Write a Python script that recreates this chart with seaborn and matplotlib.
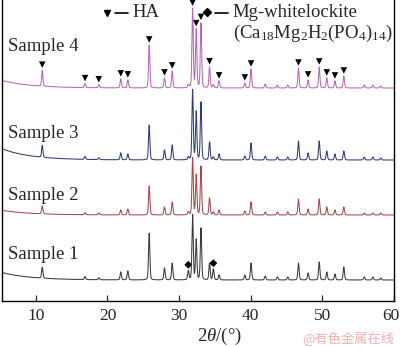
import numpy as np
import pandas as pd
import matplotlib
matplotlib.use("Agg")
import matplotlib.pyplot as plt
import matplotlib.transforms as mtransforms
import seaborn as sns

# ---- data ----
samples = ["Sample 1", "Sample 2", "Sample 3", "Sample 4"]
peak_pos = [10.88, 16.86, 18.78, 21.86, 22.84, 25.83, 27.97, 29.05, 31.30, 31.90,
            32.40, 33.07, 34.27, 34.80, 35.60, 39.20, 40.07, 42.05, 43.75, 45.20,
            46.70, 48.05, 49.60, 50.66, 51.80, 53.04, 55.90, 57.10, 58.20]
h_s1 = [11, 3, 2, 8, 9, 47, 12, 17, 9, 65, 40, 52, 17, 11, 5, 5, 17, 4, 3, 3,
        17, 7, 18, 8, 6, 13, 3, 3, 2]
h_s2 = [8, 2, 2, 5, 6, 29, 8, 13, 3, 57, 40, 49, 17, 3, 5, 4, 13, 3, 3, 3,
        16, 6, 16, 8, 5, 8, 2, 2, 2]
h_s3 = [12, 3, 2, 7, 6, 35, 10, 15, 3, 70, 48, 58, 18, 3, 6, 4, 17, 4, 3, 3,
        19, 7, 19, 9, 6, 9, 3, 3, 2]
h_s4 = [16, 4, 3, 9, 8, 43, 10, 17, 3, 79, 58, 65, 21, 3, 7, 5, 19, 4, 3, 3,
        20, 8, 21, 10, 7, 12, 3, 3, 2]
heights = [h_s1, h_s2, h_s3, h_s4]
base_level = [21, 86, 141, 213]      # baseline of each pattern (offset)
base_rise = [8, 5, 12, 8]            # low-angle background rise
ha_marked = [10.88, 16.86, 18.78, 21.86, 22.84, 25.83, 27.97, 29.05, 31.90, 32.40,
             33.07, 34.27, 35.60, 39.20, 40.07, 46.70, 48.05, 49.60, 50.66, 51.80, 53.04]
wh_marked = [31.30, 34.80]
colors = ["#3a3a3a", "#a5484a", "#2f3d72", "#b866b8"]
xticks = [10, 20, 30, 40, 50, 60]

# ---- build patterns ----
x = np.arange(5.0, 60.01, 0.02)
fwhm = 0.22
def profile(xx, c, h):
    s = fwhm / 2.3548
    g = np.exp(-0.5 * ((xx - c) / s) ** 2)
    l = 1.0 / (1.0 + ((xx - c) / (fwhm / 2)) ** 2)
    return h * (0.75 * g + 0.25 * l)

def pattern(i, xx):
    y = base_level[i] + base_rise[i] * np.exp(-(xx - 5.0) / 4.0)
    for c, h in zip(peak_pos, heights[i]):
        y = y + profile(xx, c, h)
    return y

frames = []
for i, s in enumerate(samples):
    frames.append(pd.DataFrame({"tt": x, "I": pattern(i, x), "sample": s}))
df = pd.concat(frames, ignore_index=True)

sns.set_style("ticks")
plt.rcParams["font.family"] = ["Liberation Serif", "DejaVu Sans"]
plt.rcParams["mathtext.fontset"] = "custom"
plt.rcParams["mathtext.rm"] = "Liberation Serif"
plt.rcParams["mathtext.it"] = "Liberation Serif:italic"
plt.rcParams["mathtext.default"] = "regular"

fig = plt.figure(figsize=(4.0, 3.47), dpi=100)
ax = fig.add_axes([0.005, 0.1326, 0.979, 0.8674])

sns.lineplot(data=df, x="tt", y="I", hue="sample", palette=colors,
             estimator=None, linewidth=0.75, legend=False, ax=ax)

# peak markers
gap = 5.5
ha_x = np.array(ha_marked)
ha_y = pattern(3, ha_x) + gap
sns.scatterplot(x=ha_x, y=ha_y, marker="v", s=22, color="black",
                edgecolor="none", ax=ax, legend=False)
wh_x = np.array(wh_marked)
wh_y = pattern(0, wh_x) + gap
sns.scatterplot(x=wh_x, y=wh_y, marker="D", s=16, color="black",
                edgecolor="none", ax=ax, legend=False)

ax.set_xlim(5.25, 60)
ax.set_ylim(0, 301)
ax.set_xticks(xticks)
ax.set_xticklabels([str(t) for t in xticks], fontsize=12.5)
ax.set_yticks([])
ax.set_xlabel("")
ax.set_ylabel("")
ax.tick_params(axis="x", direction="in", length=4, width=0.9, pad=5)
for sp in ["left", "right", "bottom"]:
    ax.spines[sp].set_color("black")
    ax.spines[sp].set_linewidth(1.0)
ax.spines["top"].set_visible(False)

# keep the last tick label inside the canvas
last = ax.get_xticklabels()[-1]
last.set_transform(last.get_transform() +
                   mtransforms.ScaledTranslation(-2.5 / 100, 0, fig.dpi_scale_trans))

# sample labels
lab_y = [0.153, 0.352, 0.558, 0.844]
for s, yy in zip(samples, lab_y):
    ax.text(0.015, yy, s, transform=ax.transAxes, fontsize=13.5,
            va="center", ha="left")

# legend-like annotations
ax.plot([0.268], [0.957], marker="v", ms=5, color="black", transform=ax.transAxes,
        clip_on=False)
ax.plot([0.288, 0.322], [0.957, 0.957], color="black", lw=1.2, transform=ax.transAxes)
ax.text(0.334, 0.957, "HA", transform=ax.transAxes, fontsize=13.5, va="center")
ax.plot([0.523], [0.96], marker="D", ms=4, color="black", transform=ax.transAxes,
        clip_on=False)
ax.plot([0.543, 0.577], [0.957, 0.957], color="black", lw=1.2, transform=ax.transAxes)
ax.text(0.589, 0.957, "Mg-whitelockite", transform=ax.transAxes, fontsize=13.5,
        va="center")
ax.text(0.589, 0.888, "(Ca$_{18}$Mg$_2$H$_2$(PO$_4$)$_{14}$)", transform=ax.transAxes,
        fontsize=13.5, va="center")

fig.text(0.5475, 0.029, r"$\mathit{2\theta}$/(°)", fontsize=13.5, ha="center",
         va="center")
fig.text(0.985, 0.022, "@有色金属在线", fontsize=9.5, ha="right", va="center",
         color="#f4b0b0", family=["Noto Sans CJK SC", "DejaVu Sans"])

fig.savefig("out.png", dpi=100)
